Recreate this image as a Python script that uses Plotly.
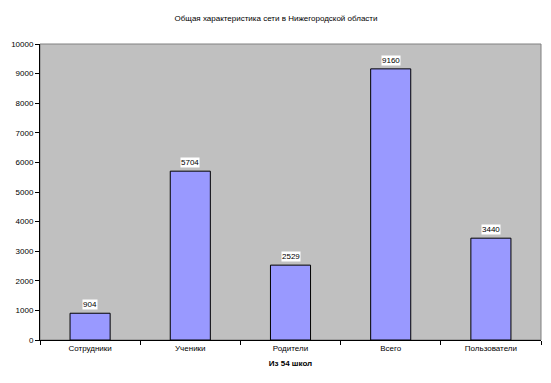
import plotly.graph_objects as go

categories = ["Сотрудники", "Ученики", "Родители", "Всего", "Пользователи"]
values = [904, 5704, 2529, 9160, 3440]
title_text = "Общая характеристика сети в Нижегородской области"
x_title = "Из 54 школ"
y_ticks = list(range(0, 10001, 1000))
y_tick_labels = [str(v) for v in y_ticks]

font_family = "Liberation Sans, Arial, sans-serif"

# page body has an 8px default margin; figure sized to fit the 551x383 window
W, H = 543, 375

fig = go.Figure()
fig.add_trace(go.Bar(
    x=categories, y=values, width=0.4,
    marker=dict(color="#9999FF", line=dict(color="#000000", width=1)),
    hoverinfo="x+y",
))

for c, v in zip(categories, values):
    fig.add_annotation(
        x=c, y=v, text=str(v), showarrow=False, yanchor="bottom", yshift=3,
        bgcolor="white", borderpad=0,
        font=dict(family=font_family, size=8, color="black"),
    )

fig.update_layout(
    width=W, height=H,
    margin=dict(l=32, r=10, t=36, b=43, autoexpand=False),
    paper_bgcolor="white", plot_bgcolor="#C0C0C0",
    showlegend=False,
    title=dict(text=title_text, x=(276 - 8) / W, xanchor="center", y=1 - 10 / H, yanchor="middle",
               font=dict(family=font_family, size=8, color="black")),
    font=dict(family=font_family, size=8, color="black"),
)
fig.update_xaxes(
    showline=True, linecolor="black", linewidth=1, mirror=False,
    ticks="outside", ticklen=4, tickcolor="black", tickson="boundaries",
    showgrid=False, tickfont=dict(size=8), automargin=False,
    title=dict(text="<b>" + x_title + "</b>", standoff=8, font=dict(size=8)),
)
fig.update_yaxes(
    range=[0, 10000], tickvals=y_ticks, ticktext=y_tick_labels,
    showline=True, linecolor="black", linewidth=1, automargin=False,
    ticks="outside", ticklen=4, tickcolor="black", showgrid=False, zeroline=False,
    tickfont=dict(size=8),
)
fig.add_shape(type="rect", xref="paper", yref="paper", x0=0, y0=0, x1=1, y1=1,
              line=dict(color="#808080", width=1), layer="below")

fig.write_html("out.html")
